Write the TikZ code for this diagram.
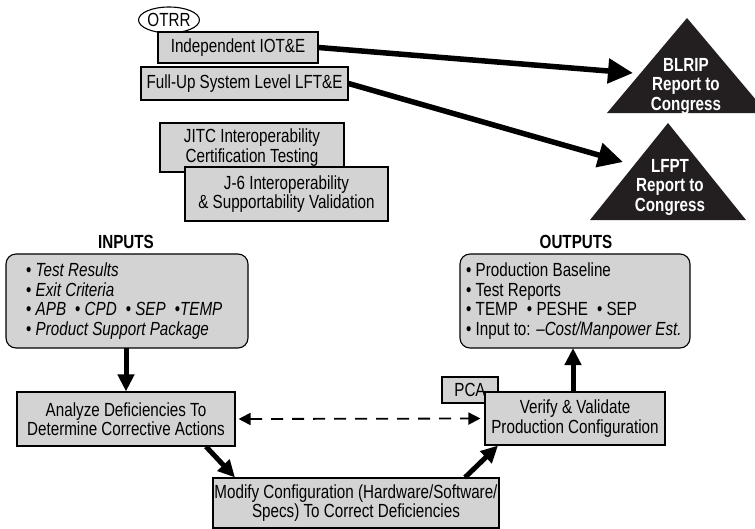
\documentclass[tikz,border=0pt]{standalone}
\usepackage{fontspec}
\setmainfont{Liberation Sans}[FakeStretch=0.8]
\usetikzlibrary{arrows.meta,shapes.geometric}
\definecolor{boxgray}{RGB}{211,211,212}
\definecolor{tridark}{RGB}{35,31,32}
\tikzset{
  every node/.style={font=\fontsize{19}{19.5}\selectfont},
  gbox/.style={draw=black, line width=1.1pt, fill=boxgray, inner sep=0pt, align=center},
  rbox/.style={draw=black, line width=1.1pt, fill=boxgray, rounded corners=10pt},
  bigarrow/.style={line width=5.5pt, -{Triangle[length=25pt,width=24pt]}},
  fatarrow/.style={line width=5pt, -{Triangle[length=17pt,width=16pt]}},
  dasharrow/.style={line width=1.8pt, dash pattern=on 12pt off 9pt, {Triangle[length=12pt,width=12pt]}-{Triangle[length=12pt,width=12pt]}},
  tritext/.style={text=white, font=\fontsize{19}{19.5}\selectfont\bfseries, align=center},
}
\begin{document}
\begin{tikzpicture}[x=1pt,y=-1pt]
\useasboundingbox (0,0) rectangle (755,528);

% triangles
\fill[tridark] (687,18) -- (607,113) -- (767,113) -- cycle;
\fill[tridark] (668,123) -- (590,220) -- (746,220) -- cycle;
\node[tritext] (blrip) at (686,86) {BLRIP\\Report to\\Congress};
\node[tritext] (lfpt) at (670,187) {LFPT\\Report to\\Congress};
\coordinate (blripTip) at (633,73);
\coordinate (lfptTip) at (623,162);

% top boxes
\node[draw=black, line width=1.1pt, fill=white, ellipse, minimum width=53pt, minimum height=26pt, inner sep=0pt] (otrr) at (169,20) {OTRR};
\node[gbox, minimum width=160pt, minimum height=31pt] (iot) at (238,47.5) {Independent IOT\&E};
\node[gbox, minimum width=207pt, minimum height=33pt] (lft) at (244.5,83.5) {Full-Up System Level LFT\&E};
\node[gbox, minimum width=184pt, minimum height=49pt] (jitc) at (252,147.5) {JITC Interoperability\\Certification Testing};
\node[gbox, minimum width=203pt, minimum height=54pt] (j6) at (286.5,194) {J-6 Interoperability\\\& Supportability Validation};

\draw[bigarrow] (iot.east) -- (blripTip);
\draw[bigarrow] (lft.east) -- (lfptTip);

% inputs / outputs
\node[font=\fontsize{19}{19.5}\selectfont\bfseries] (inlbl) at (126,242) {INPUTS};
\node[font=\fontsize{19}{19.5}\selectfont\bfseries] (outlbl) at (576,242) {OUTPUTS};
\draw[rbox] (6,254) rectangle (248,348);
\draw[rbox] (460,254) rectangle (690,348);
\coordinate (inBot) at (126,348);
\coordinate (outBot) at (573,348);
\node[anchor=north west, align=left, inner sep=0pt] (inlist) at (26,263) {%
  • \textit{Test Results}\\
  • \textit{Exit Criteria}\\
  • \textit{APB}\hspace{9pt}• \textit{CPD}\hspace{9pt}• \textit{SEP}\hspace{9pt}•\textit{TEMP}\\
  • \textit{Product Support Package}};
\node[anchor=north west, align=left, inner sep=0pt] (outlist) at (466,263) {%
  • Production Baseline\\
  • Test Reports\\
  • TEMP\hspace{9pt}• PESHE\hspace{9pt}• SEP\\
  • Input to: \textit{–Cost/Manpower Est.}};

% lower boxes
\node[gbox, minimum width=56pt, minimum height=26pt] (pca) at (470,390) {PCA};
\node[gbox, minimum width=218pt, minimum height=54pt] (analyze) at (126,419) {Analyze Deficiencies To\\Determine Corrective Actions};
\node[gbox, minimum width=180pt, minimum height=53pt] (verify) at (575,418.5) {Verify \& Validate\\Production Configuration};
\node[gbox, minimum width=286pt, minimum height=50pt] (modify) at (356,503) {Modify Configuration (Hardware/Software/\\Specs) To Correct Deficiencies};

\draw[fatarrow] (inBot) -- (analyze.north);
\draw[fatarrow] (verify.north -| outBot) -- (outBot);
\draw[dasharrow] (analyze.east) ++(3,0) coordinate (dL) (dL) -- ([xshift=-4pt]verify.west);
\draw[fatarrow] ([xshift=80pt]analyze.south) -- ([xshift=-121pt]modify.north);
\draw[fatarrow] ([xshift=109pt]modify.north) -- ([xshift=-77pt]verify.south);
\end{tikzpicture}
\end{document}
